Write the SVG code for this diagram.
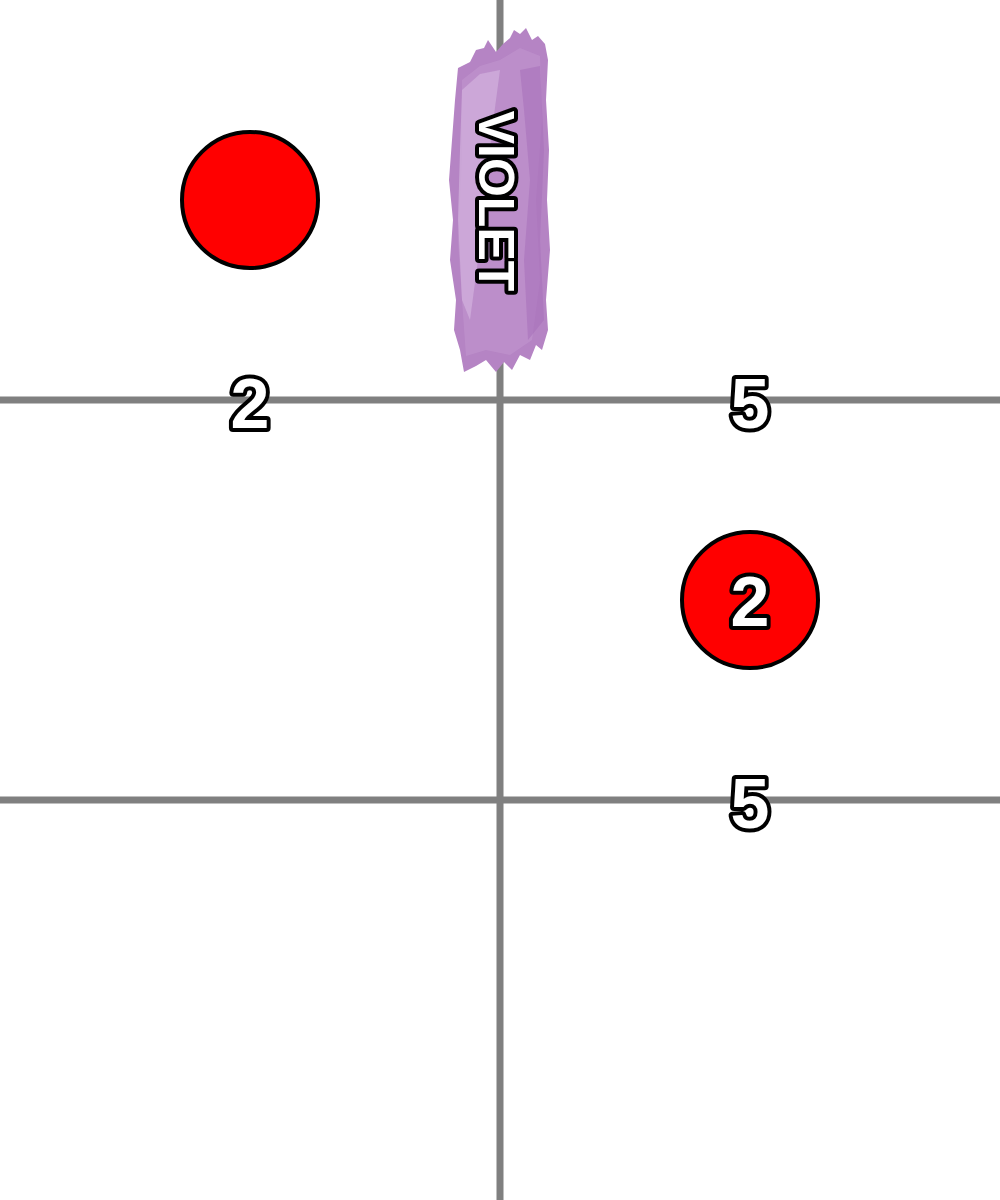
<svg xmlns="http://www.w3.org/2000/svg" width="1000" height="1200" viewBox="0 0 1000 1200">
<style>
.grid{stroke:#808080;stroke-width:7;fill:none}
.node{fill:#ff0000;stroke:#000;stroke-width:4}
.num{font-family:"Liberation Sans",Arial,sans-serif;font-weight:bold;fill:#fff;stroke:#000;stroke-width:8;stroke-linejoin:round;paint-order:stroke;text-anchor:middle}
</style>
<rect width="1000" height="1200" fill="#fff"/>
<g id="grid">
<line class="grid" x1="500" y1="0" x2="500" y2="1200"/>
<line class="grid" x1="0" y1="400" x2="1000" y2="400"/>
<line class="grid" x1="0" y1="800" x2="1000" y2="800"/>
</g>
<g id="violet">
<path d="M458,68 L470,62 L476,50 L484,48 L488,40 L496,52 L503,44 L510,38 L514,30 L520,34 L526,28 L532,40 L538,36 L545,44 L548,60 L546,100 L549,150 L547,200 L550,250 L546,300 L548,330 L542,350 L536,345 L530,360 L520,355 L512,370 L504,362 L496,372 L486,360 L476,366 L464,372 L460,350 L454,330 L456,300 L450,260 L453,220 L449,180 L452,140 L455,100 Z" fill="#b584c4"/>
<path d="M462,80 L480,66 L500,60 L520,48 L540,56 L542,120 L536,200 L540,280 L532,340 L510,355 L486,350 L466,356 L462,300 L458,240 L462,160 Z" fill="#be91cc" opacity="0.8"/>
<path d="M462,90 L480,74 L500,70 L492,130 L486,190 L478,260 L470,320 L462,300 L458,220 L460,150 Z" fill="#cfaedb" opacity="0.8"/>
<path d="M520,70 L540,66 L544,150 L540,240 L544,320 L528,340 L524,260 L530,180 L524,110 Z" fill="#a872ba" opacity="0.6"/>
<text class="num" font-size="50" transform="translate(497,201) rotate(90)" y="18">VIOLET</text>
</g>
<g id="node1"><circle class="node" cx="250" cy="200" r="68"/></g>
<g id="node2"><circle class="node" cx="750" cy="600" r="68"/><text class="num" font-size="70" x="750" y="626">2</text></g>
<g id="labels">
<text class="num" font-size="70" x="250" y="428">2</text>
<text class="num" font-size="70" x="750" y="428">5</text>
<text class="num" font-size="70" x="750" y="828">5</text>
</g>
</svg>
